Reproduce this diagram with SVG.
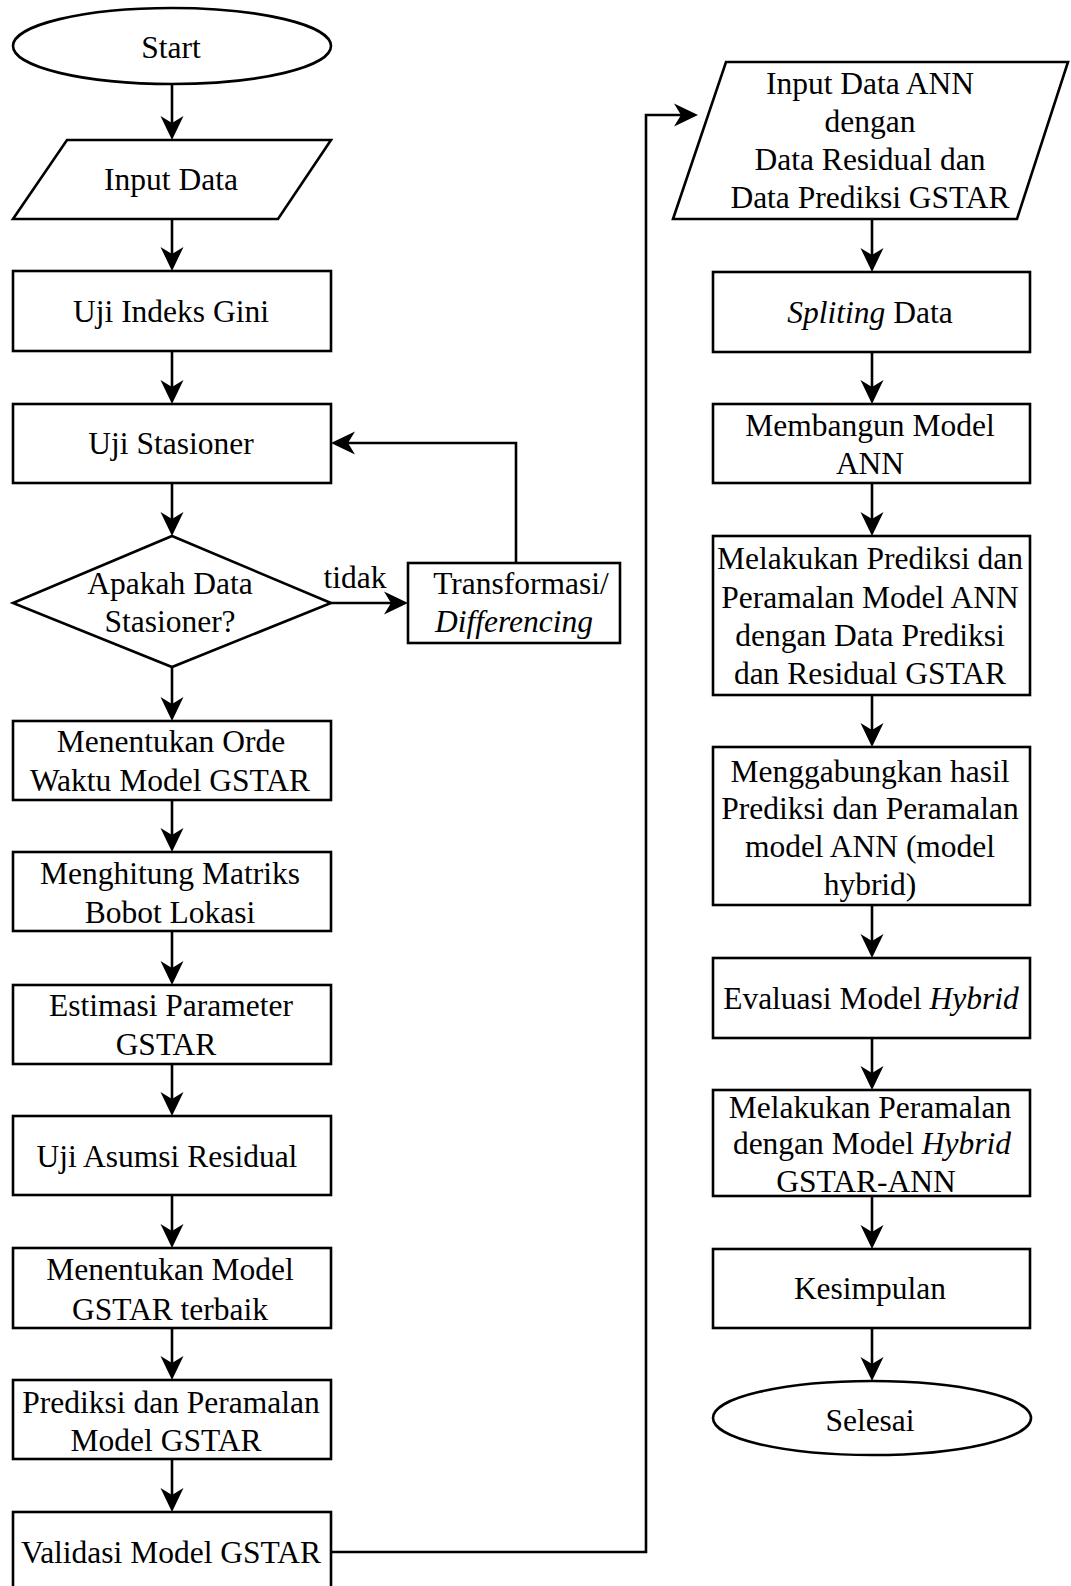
<svg xmlns="http://www.w3.org/2000/svg" width="1071" height="1586" viewBox="0 0 1071 1586">
<style>
.n{fill:#fff;stroke:#000;stroke-width:2.6}
.t{font-family:"Liberation Serif","Times New Roman",serif;font-size:31.5px;fill:#000;text-anchor:middle;dominant-baseline:central}
.c{fill:none;stroke:#000;stroke-width:2.6}
.i{font-style:italic}
</style>
<defs>
<marker id="ah" markerUnits="userSpaceOnUse" markerWidth="26" markerHeight="26" refX="10" refY="11.5" orient="auto" overflow="visible">
<path d="M0,0 L24,11.5 L0,23 L7,11.5 Z" fill="#000"/>
</marker>
</defs>
<rect width="1071" height="1586" fill="#fff"/>
<g id="connectors">
<path class="c" d="M172,84 V126" marker-end="url(#ah)"/>
<path class="c" d="M172,219 V257" marker-end="url(#ah)"/>
<path class="c" d="M172,351 V390" marker-end="url(#ah)"/>
<path class="c" d="M172,483 V522" marker-end="url(#ah)"/>
<path class="c" d="M331,603 H394" marker-end="url(#ah)"/>
<text class="t" x="355" y="577">tidak</text>
<path class="c" d="M516,563 V443 H345" marker-end="url(#ah)"/>
<path class="c" d="M172,667 V707" marker-end="url(#ah)"/>
<path class="c" d="M172,800 V838" marker-end="url(#ah)"/>
<path class="c" d="M172,931 V971" marker-end="url(#ah)"/>
<path class="c" d="M172,1064 V1102" marker-end="url(#ah)"/>
<path class="c" d="M172,1195 V1234" marker-end="url(#ah)"/>
<path class="c" d="M172,1328 V1366" marker-end="url(#ah)"/>
<path class="c" d="M172,1459 V1498" marker-end="url(#ah)"/>
<path class="c" d="M331,1552 H646 V115 H684" marker-end="url(#ah)"/>
<path class="c" d="M872,219 V258" marker-end="url(#ah)"/>
<path class="c" d="M872,352 V390" marker-end="url(#ah)"/>
<path class="c" d="M872,483 V522" marker-end="url(#ah)"/>
<path class="c" d="M872,695 V733" marker-end="url(#ah)"/>
<path class="c" d="M872,905 V944" marker-end="url(#ah)"/>
<path class="c" d="M872,1038 V1076" marker-end="url(#ah)"/>
<path class="c" d="M872,1196 V1235" marker-end="url(#ah)"/>
<path class="c" d="M872,1328 V1367" marker-end="url(#ah)"/>
</g>
<g id="start"><ellipse class="n" cx="172" cy="46" rx="159" ry="38"/><text class="t" x="171" y="47">Start</text></g>
<g id="input-data"><polygon class="n" points="67,140 331,140 278,219 13,219"/><text class="t" x="171" y="179">Input Data</text></g>
<g id="uji-gini"><rect class="n" x="13" y="271" width="318" height="80"/><text class="t" x="171" y="311">Uji Indeks Gini</text></g>
<g id="uji-stasioner"><rect class="n" x="13" y="404" width="318" height="79"/><text class="t" x="171" y="443">Uji Stasioner</text></g>
<g id="decision"><polygon class="n" points="172,536 331,603 172,667 13,603"/><text class="t" x="170" y="583">Apakah Data</text><text class="t" x="170" y="621">Stasioner?</text></g>
<g id="transformasi"><rect class="n" x="408" y="563" width="212" height="80"/><text class="t" x="521" y="583">Transformasi/</text><text class="t i" x="514" y="621">Differencing</text></g>
<g id="orde"><rect class="n" x="13" y="721" width="318" height="79"/><text class="t" x="171" y="741">Menentukan Orde</text><text class="t" x="170" y="780">Waktu Model GSTAR</text></g>
<g id="matriks"><rect class="n" x="13" y="852" width="318" height="79"/><text class="t" x="170" y="873">Menghitung Matriks</text><text class="t" x="170" y="912">Bobot Lokasi</text></g>
<g id="estimasi"><rect class="n" x="13" y="985" width="318" height="79"/><text class="t" x="171" y="1005">Estimasi Parameter</text><text class="t" x="166" y="1044">GSTAR</text></g>
<g id="asumsi"><rect class="n" x="13" y="1116" width="318" height="79"/><text class="t" x="167" y="1156">Uji Asumsi Residual</text></g>
<g id="model-terbaik"><rect class="n" x="13" y="1248" width="318" height="80"/><text class="t" x="170" y="1269">Menentukan Model</text><text class="t" x="170" y="1309">GSTAR terbaik</text></g>
<g id="prediksi-gstar"><rect class="n" x="13" y="1380" width="318" height="79"/><text class="t" x="171" y="1402">Prediksi dan Peramalan</text><text class="t" x="166" y="1440">Model GSTAR</text></g>
<g id="validasi"><rect class="n" x="13" y="1512" width="318" height="82"/><text class="t" x="171" y="1552">Validasi Model GSTAR</text></g>
<g id="input-ann"><polygon class="n" points="726,62 1068,62 1017,219 673,219"/><text class="t" x="870" y="83">Input Data ANN</text><text class="t" x="870" y="121">dengan</text><text class="t" x="870" y="159">Data Residual dan</text><text class="t" x="870" y="197">Data Prediksi GSTAR</text></g>
<g id="spliting"><rect class="n" x="713" y="272" width="317" height="80"/><text class="t" x="870" y="312"><tspan class="i">Spliting</tspan> Data</text></g>
<g id="membangun"><rect class="n" x="713" y="404" width="317" height="79"/><text class="t" x="870" y="425">Membangun Model</text><text class="t" x="870" y="463">ANN</text></g>
<g id="prediksi-ann"><rect class="n" x="713" y="536" width="317" height="159"/><text class="t" x="870" y="558">Melakukan Prediksi dan</text><text class="t" x="870" y="597">Peramalan Model ANN</text><text class="t" x="870" y="635">dengan Data Prediksi</text><text class="t" x="870" y="673">dan Residual GSTAR</text></g>
<g id="menggabungkan"><rect class="n" x="713" y="747" width="317" height="158"/><text class="t" x="870" y="771">Menggabungkan hasil</text><text class="t" x="870" y="808">Prediksi dan Peramalan</text><text class="t" x="870" y="846">model ANN (model</text><text class="t" x="870" y="884">hybrid)</text></g>
<g id="evaluasi"><rect class="n" x="713" y="958" width="317" height="80"/><text class="t" x="871" y="998">Evaluasi Model <tspan class="i">Hybrid</tspan></text></g>
<g id="peramalan-hybrid"><rect class="n" x="713" y="1090" width="317" height="106"/><text class="t" x="870" y="1107">Melakukan Peramalan</text><text class="t" x="872" y="1143">dengan Model <tspan class="i">Hybrid</tspan></text><text class="t" x="866" y="1181">GSTAR-ANN</text></g>
<g id="kesimpulan"><rect class="n" x="713" y="1249" width="317" height="79"/><text class="t" x="870" y="1288">Kesimpulan</text></g>
<g id="selesai"><ellipse class="n" cx="872" cy="1418" rx="159" ry="37"/><text class="t" x="870" y="1420">Selesai</text></g>
</svg>
